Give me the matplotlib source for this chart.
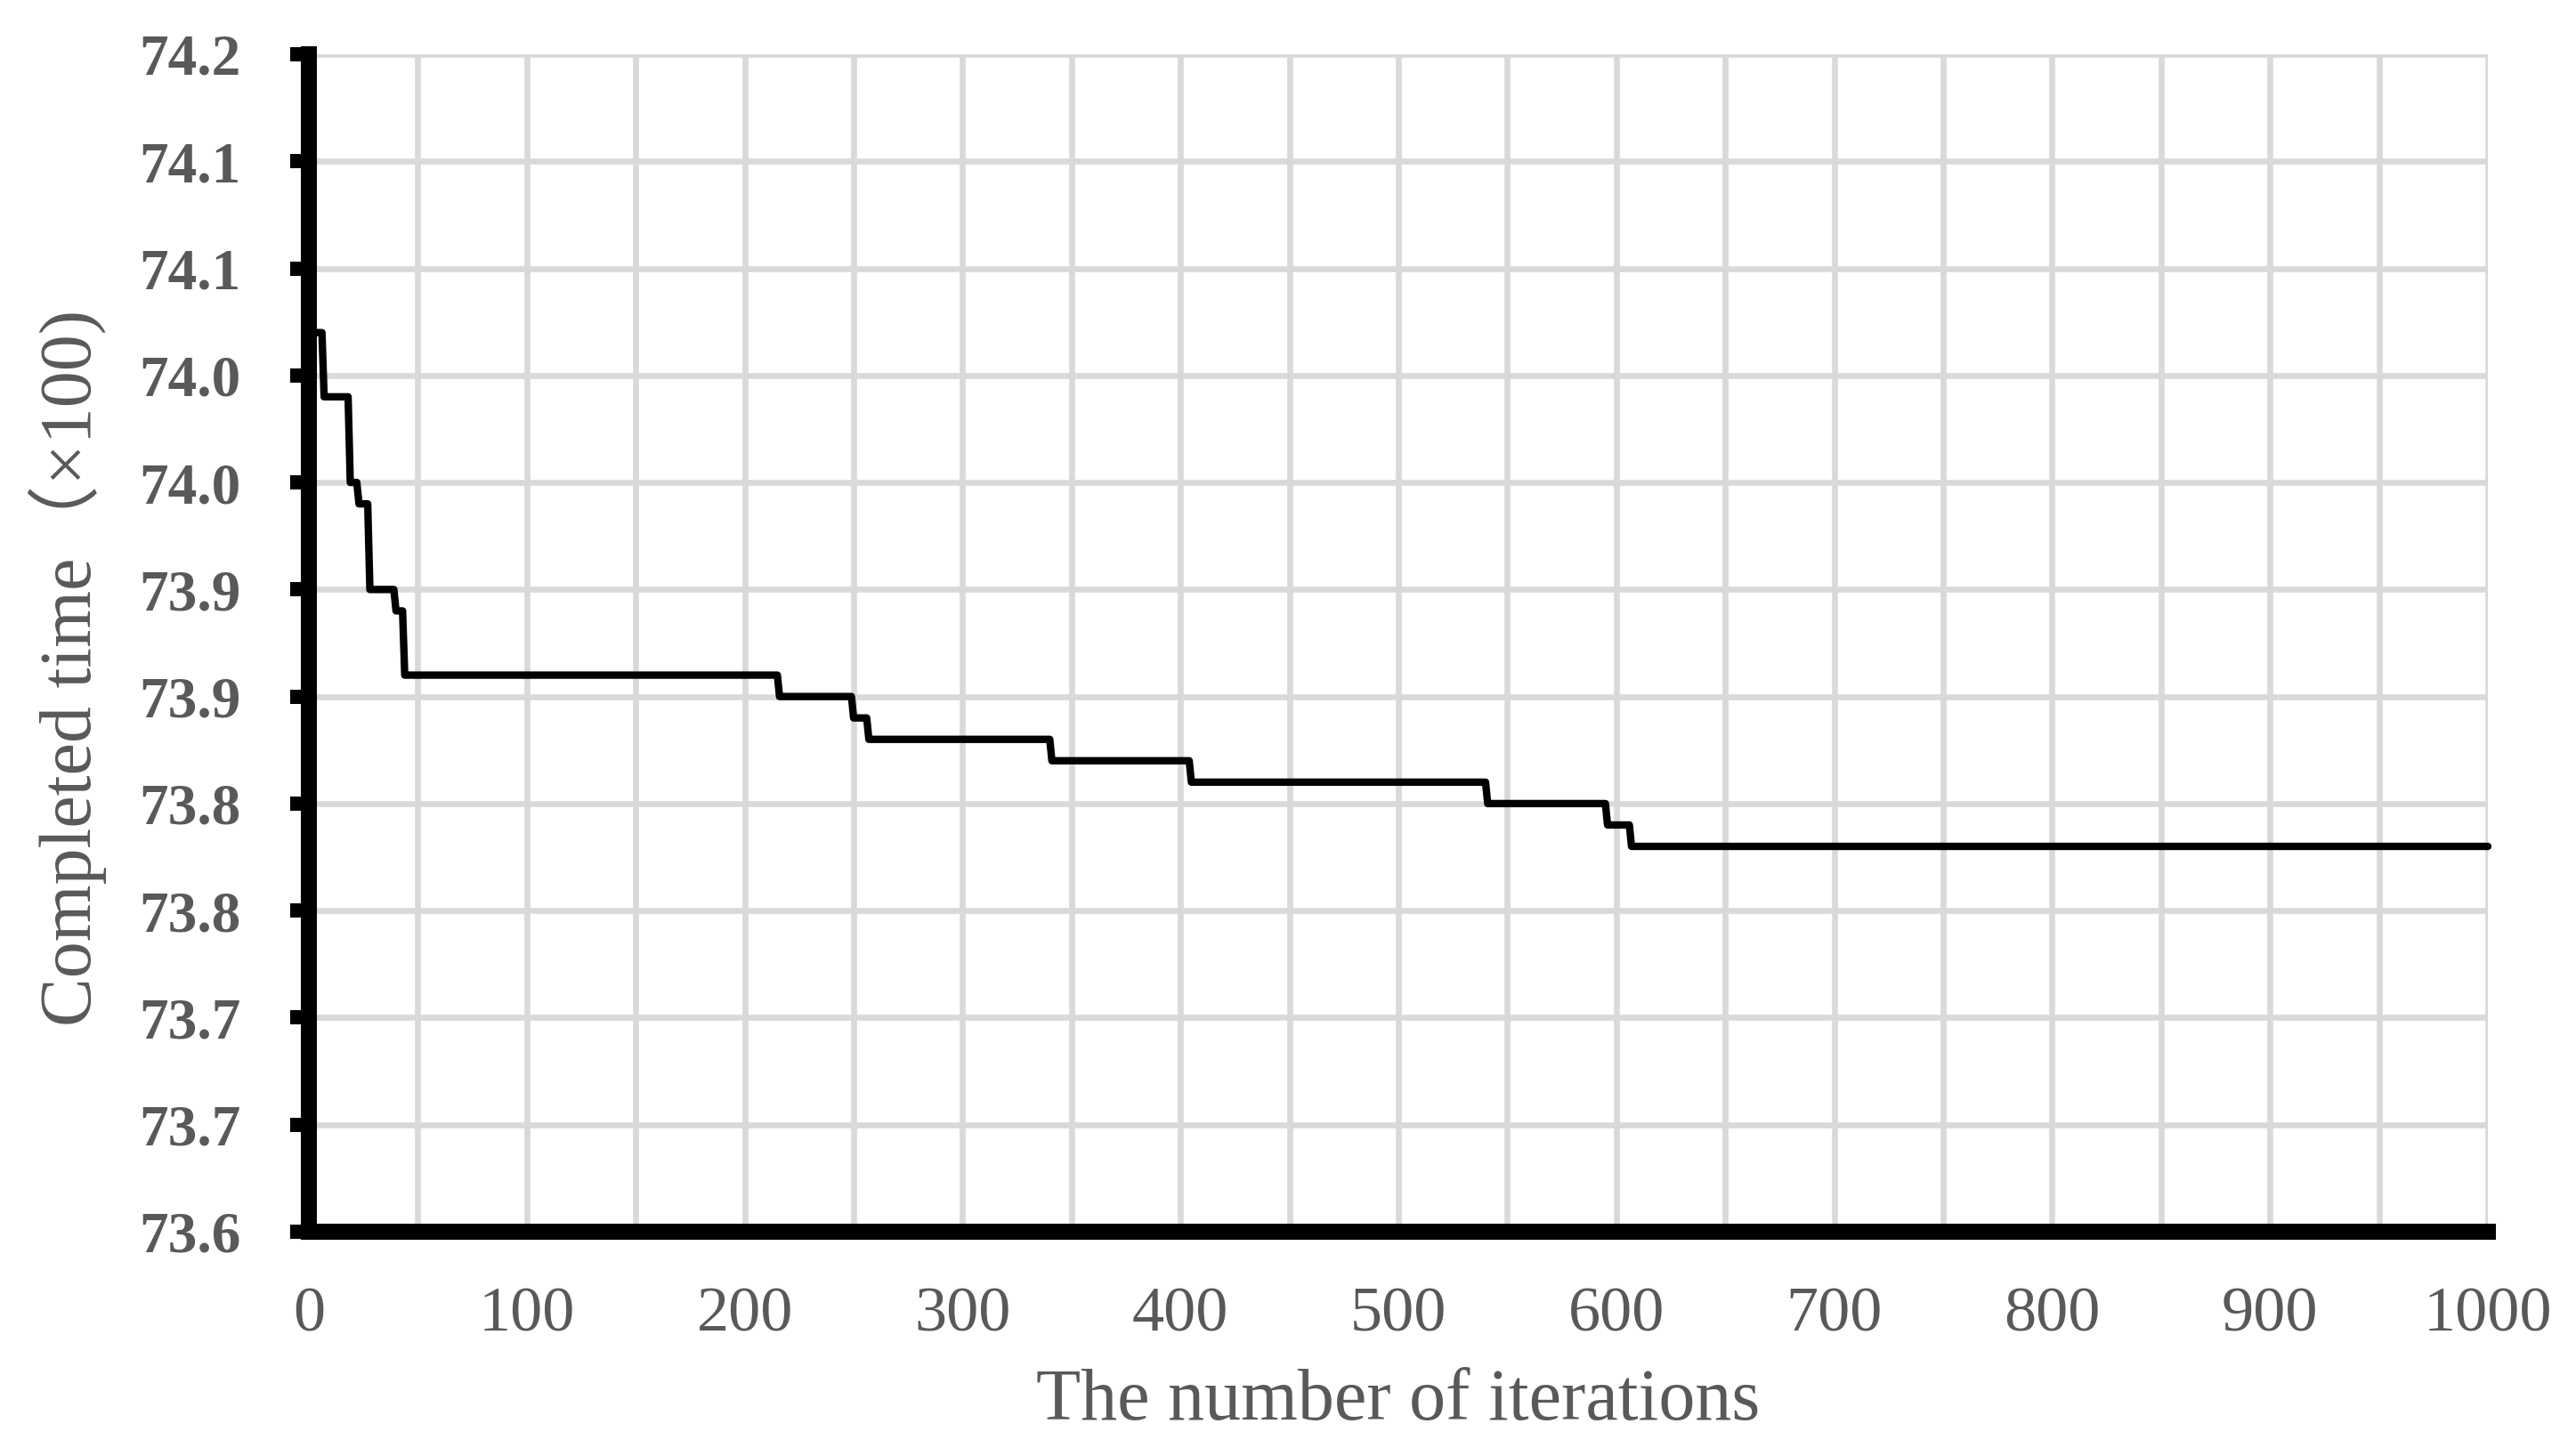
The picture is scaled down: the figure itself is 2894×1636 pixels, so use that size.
import matplotlib
matplotlib.use("Agg")
import matplotlib.pyplot as plt
from matplotlib.ticker import MultipleLocator

# ---- data ----
level_start = [1, 7, 19, 23, 28, 40, 44, 216, 250, 257, 341, 405, 541, 596, 607]
level_end = [6, 18, 22, 27, 39, 43, 215, 249, 256, 340, 404, 540, 595, 606, 1000]
level_value = [74.02, 73.99, 73.95, 73.94, 73.90, 73.89, 73.86, 73.85, 73.84,
               73.83, 73.82, 73.81, 73.80, 73.79, 73.78]

y_ticks = [73.60, 73.65, 73.70, 73.75, 73.80, 73.85, 73.90, 73.95, 74.00, 74.05, 74.10, 74.15]
y_tick_labels = ['73.6', '73.7', '73.7', '73.8', '73.8', '73.9', '73.9', '74.0',
                 '74.0', '74.1', '74.1', '74.2']
x_ticks = [0, 100, 200, 300, 400, 500, 600, 700, 800, 900, 1000]
x_tick_labels = [str(v) for v in x_ticks]

x_label = "The number of iterations"
y_label = "Completed time（×100)"

# build the polyline vertices from the step levels
xs, ys = [], []
for s, e, v in zip(level_start, level_end, level_value):
    xs += [s, e]
    ys += [v, v]

# ---- figure ----
W, H = 2894, 1636
fig = plt.figure(figsize=(W / 100, H / 100), dpi=100)
left, right, top, bottom = 347, 2795, 61, 1384
ax = fig.add_axes([left / W, 1 - bottom / H, (right - left) / W, (bottom - top) / H])

serif = ['Liberation Serif', 'Noto Sans CJK SC', 'DejaVu Serif']
gray = '#595959'

ax.plot(xs, ys, color='black', lw=6, solid_joinstyle='round',
        solid_capstyle='round', clip_on=False, zorder=2)

ax.set_xlim(0, 1000)
ax.set_ylim(73.60, 74.15)

ax.set_xticks(x_ticks)
ax.set_xticklabels(x_tick_labels, fontfamily=serif, fontsize=52, color=gray)
ax.xaxis.set_minor_locator(MultipleLocator(50))
ax.set_yticks(y_ticks)
ax.set_yticklabels(y_tick_labels, fontfamily=serif, fontsize=47,
                   fontweight='bold', color=gray)

ax.tick_params(axis='x', which='both', length=0, pad=44)
ax.tick_params(axis='y', which='major', length=15, width=11.5, color='black',
               direction='out', pad=40)

ax.grid(True, which='both', axis='x', color='#D9D9D9', lw=4.8)
ax.grid(True, which='major', axis='y', color='#D9D9D9', lw=4.8)
ax.set_axisbelow(True)

for side in ('top', 'right'):
    ax.spines[side].set_visible(False)
for side in ('left', 'bottom'):
    ax.spines[side].set_linewidth(13)
    ax.spines[side].set_color('black')
    ax.spines[side].set_zorder(3)

ax.set_xlabel(x_label, fontfamily=serif, fontsize=59, color=gray)
ax.xaxis.label.set_va('baseline')
ax.xaxis.set_label_coords(0.5, -(1595 - bottom) / (bottom - top))

fig.text(102 / W, 1 - 750 / H, y_label, rotation=90, rotation_mode='anchor',
         ha='center', va='baseline', fontfamily=serif, fontsize=59, color=gray)

fig.savefig('out.png', dpi=100, facecolor='white')
